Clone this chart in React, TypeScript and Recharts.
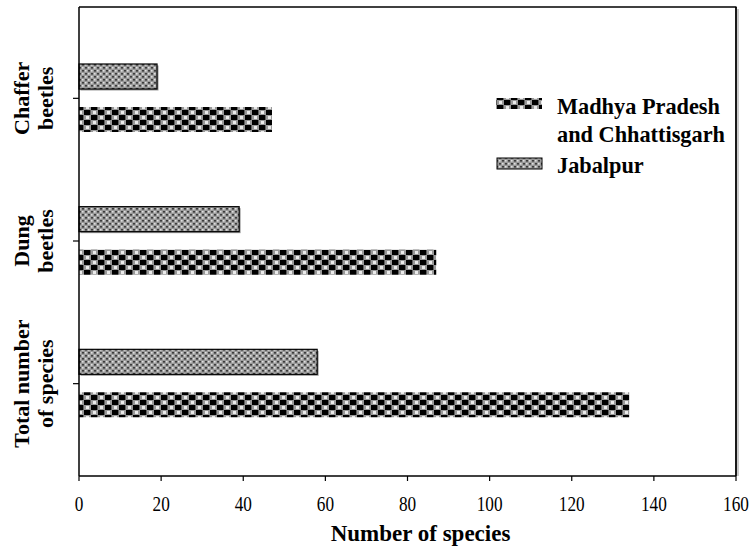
import React from "react";
import { BarChart, Bar, XAxis, YAxis } from "recharts";

const categories = ["Chaffer beetles", "Dung beetles", "Total number of species"];
const categoryLines = [["Chaffer", "beetles"], ["Dung", "beetles"], ["Total number", "of species"]];
const jabalpur = [19, 39, 58];
const madhyaPradesh = [47, 87, 134];
const xTicks = [0, 20, 40, 60, 80, 100, 120, 140, 160];
const seriesNames = { mp: ["Madhya Pradesh", "and Chhattisgarh"], jb: ["Jabalpur"] };

const data = categories.map((c, i) => ({ cat: c, jb: jabalpur[i], mp: madhyaPradesh[i] }));

const SERIF = "'Liberation Serif', 'Times New Roman', Times, serif";

const Patterns = () => (
  <svg width={0} height={0} style={{ position: "absolute" }}>
    <defs>
      <pattern id="mpPat" width={14} height={10} patternUnits="userSpaceOnUse">
        <rect x={0} y={0} width={14} height={10} fill="#5e5e5e" />
        <rect x={0} y={0} width={6} height={5} fill="#000" />
        <rect x={7} y={5} width={6} height={5} fill="#000" />
        <rect x={7} y={0} width={7} height={5} fill="#999" />
        <rect x={0} y={5} width={7} height={5} fill="#999" />
        <rect x={9} y={1} width={3} height={3} fill="#eaeaea" />
        <rect x={2} y={6} width={3} height={3} fill="#eaeaea" />
      </pattern>
      <pattern id="jbPat" width={6} height={6} patternUnits="userSpaceOnUse">
        <rect x={0} y={0} width={6} height={6} fill="#9a9a9a" />
        <rect x={1} y={1} width={2} height={1.6} fill="#3c3c3c" />
        <rect x={4} y={4} width={2} height={1.6} fill="#3c3c3c" />
        <rect x={4} y={1} width={1.6} height={1.6} fill="#e0e0e0" />
        <rect x={1} y={4} width={1.6} height={1.6} fill="#e0e0e0" />
      </pattern>
    </defs>
  </svg>
);

const XTick = (props: any) => {
  const { x, y, payload } = props;
  return (
    <text
      transform={`translate(${x},${y}) scale(0.82,1)`}
      textAnchor="middle"
      dy="0.71em"
      fontSize={21}
      fontFamily={SERIF}
      fill="#000"
    >
      {payload.value}
    </text>
  );
};

const YTick = (props: any) => {
  const { y, payload } = props;
  const idx = categories.indexOf(payload.value);
  const lines = idx >= 0 ? categoryLines[idx] : [String(payload.value)];
  return (
    <g transform={`translate(29,${y}) rotate(-90)`}>
      {lines.map((l, i) => (
        <text
          key={i}
          x={0}
          y={i * 24}
          textAnchor="middle"
          fontSize={22}
          fontWeight="bold"
          fontFamily={SERIF}
          fill="#000"
        >
          {l}
        </text>
      ))}
    </g>
  );
};

const JShape = (p: any) => (
  <g>
    <rect x={p.x + 1.5} y={p.y + 1.5} width={p.width} height={p.height} fill="#9c9c9c" />
    <rect x={p.x} y={p.y} width={p.width} height={p.height} fill="url(#jbPat)" stroke="#000" strokeWidth={1.2} />
  </g>
);

const XTitle = (props: any) => {
  const vb = props.viewBox || { x: 0, width: 0 };
  return (
    <text
      x={vb.x + vb.width / 2 + 13}
      y={541}
      textAnchor="middle"
      fontSize={23}
      fontWeight="bold"
      fontFamily={SERIF}
      fill="#000"
    >
      Number of species
    </text>
  );
};

const Overlay = () => (
  <svg
    width={749}
    height={550}
    style={{ position: "absolute", left: 0, top: 0, pointerEvents: "none" }}
  >
    <line x1={738} y1={9} x2={738} y2={476} stroke="#b8b8b8" strokeWidth={1.5} />
    <line x1={79} y1={7} x2={736.5} y2={7} stroke="#000" strokeWidth={1.5} />
    <line x1={736} y1={7} x2={736} y2={476} stroke="#000" strokeWidth={1.8} />
    <rect x={496} y={98} width={46} height={11} fill="url(#mpPat)" />
    {seriesNames.mp.map((t, i) => (
      <text
        key={i}
        transform={`translate(557,${114 + i * 28}) scale(0.93,1)`}
        fontSize={24}
        fontWeight="bold"
        fontFamily={SERIF}
        fill="#000"
      >
        {t}
      </text>
    ))}
    <rect x={497} y={158} width={45} height={11} fill="url(#jbPat)" stroke="#000" strokeWidth={1} />
    {seriesNames.jb.map((t, i) => (
      <text
        key={i}
        transform={`translate(557,${173 + i * 28}) scale(0.93,1)`}
        fontSize={24}
        fontWeight="bold"
        fontFamily={SERIF}
        fill="#000"
      >
        {t}
      </text>
    ))}
  </svg>
);

export default function App() {
  return (
    <div style={{ position: "absolute", left: 0, top: 0, width: 749, height: 550, background: "#fff", overflow: "hidden" }}>
      <Patterns />
      <BarChart
        width={749}
        height={550}
        data={data}
        layout="vertical"
        margin={{ top: 7, right: 13, bottom: 0, left: 0 }}
        barSize={25}
        barGap={18}
      >
        <XAxis
          type="number"
          domain={[0, 160]}
          ticks={xTicks}
          interval={0}
          height={74}
          tickSize={5}
          tickMargin={15}
          tick={<XTick />}
          axisLine={{ stroke: "#000", strokeWidth: 1.5 }}
          tickLine={{ stroke: "#000", strokeWidth: 1.2 }}
          label={<XTitle />}
        />
        <YAxis
          type="category"
          dataKey="cat"
          width={79}
          padding={{ top: 20, bottom: 21 }}
          tickSize={6}
          tick={<YTick />}
          axisLine={{ stroke: "#000", strokeWidth: 1.5 }}
          tickLine={{ stroke: "#000", strokeWidth: 1.2 }}
        />
        <Bar dataKey="jb" name="Jabalpur" shape={<JShape />} isAnimationActive={false} />
        <Bar dataKey="mp" name="Madhya Pradesh and Chhattisgarh" fill="url(#mpPat)" isAnimationActive={false} />
      </BarChart>
      <Overlay />
    </div>
  );
}
